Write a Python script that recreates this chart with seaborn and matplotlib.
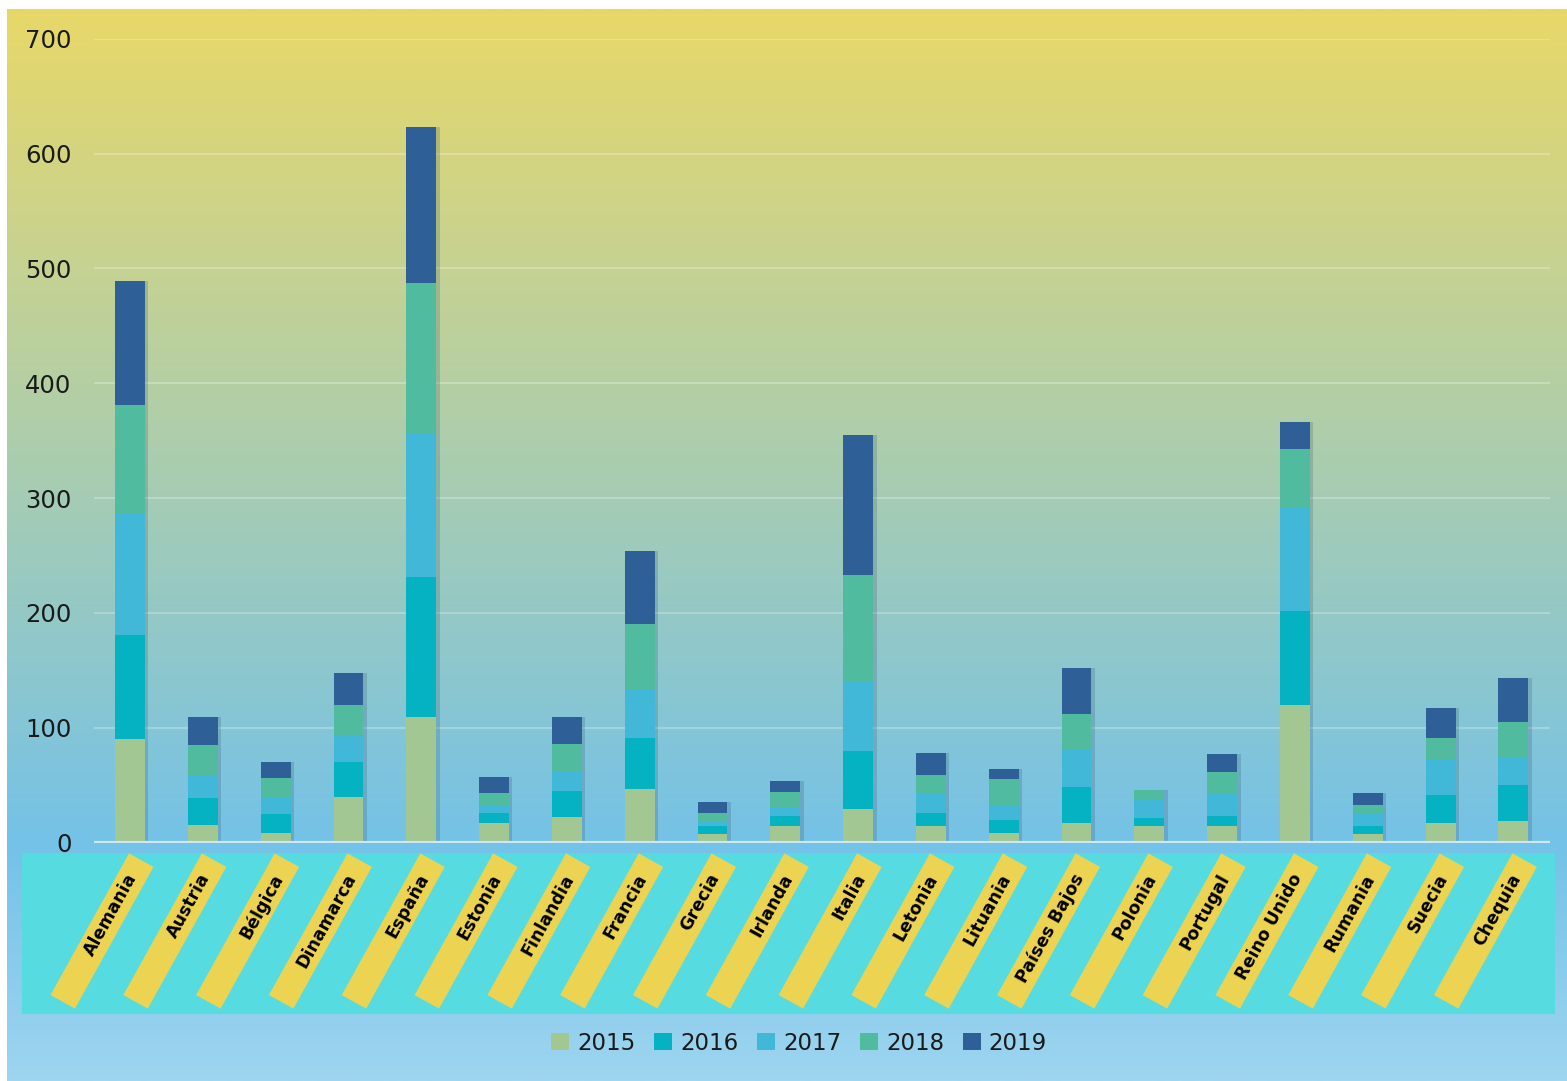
import numpy as np
import matplotlib
matplotlib.use("Agg")
import matplotlib.pyplot as plt
import matplotlib.transforms as mtransforms
import matplotlib.patheffects as pe
from matplotlib.patches import Rectangle, Patch
import seaborn as sns

# =============================
# DATA
# =============================
paises = ["Alemania", "Austria", "Bélgica", "Dinamarca", "España", "Estonia",
          "Finlandia", "Francia", "Grecia", "Irlanda", "Italia", "Letonia",
          "Lituania", "Países Bajos", "Polonia", "Portugal", "Reino Unido",
          "Rumania", "Suecia", "Chequia"]
anios = ["2015", "2016", "2017", "2018", "2019"]

v2015 = [90, 15, 8, 40, 109, 17, 22, 47, 7, 14, 29, 14, 8, 17, 14, 14, 120, 7, 17, 19]
v2016 = [91, 24, 17, 30, 122, 9, 23, 44, 7, 9, 51, 12, 12, 31, 7, 9, 82, 7, 24, 31]
v2017 = [106, 19, 14, 24, 125, 7, 17, 43, 5, 7, 61, 16, 12, 33, 16, 19, 89, 12, 31, 24]
v2018 = [94, 27, 17, 26, 131, 10, 24, 56, 7, 14, 92, 17, 23, 31, 9, 19, 52, 7, 19, 31]
v2019 = [108, 24, 14, 28, 136, 14, 23, 64, 9, 10, 122, 19, 9, 40, 0, 16, 23, 10, 26, 38]

series = [v2015, v2016, v2017, v2018, v2019]
colores = ["#A3C793", "#05B2C1", "#41B8D8", "#50BB9E", "#2F5F97"]

# =============================
# FIGURE + BACKGROUND
# =============================
sns.set_style("white")
plt.rcParams["font.family"] = ["DejaVu Sans"]

W, H = 1567, 1081
fig = plt.figure(figsize=(W / 100, H / 100), dpi=100)
fig.patch.set_facecolor("white")

# vertical gradient yellow -> blue
stops = [0.0, 0.25, 0.78, 1.0]
cols = np.array([[232, 216, 104], [196, 210, 148], [116, 194, 232], [158, 213, 240]]) / 255
t = np.linspace(0, 1, 400)
grad = np.stack([np.interp(t, stops, cols[:, k]) for k in range(3)], axis=1)
bg = fig.add_axes([7 / W, 0, (W - 7) / W, (H - 9) / H])
bg.imshow(grad[:, None, :], aspect="auto", extent=[0, 1, 0, 1])
bg.axis("off")
bg.set_zorder(-3)

# cyan band behind the labels
band = Rectangle((22 / W, (H - 1014) / H), (1555 - 22) / W, (1014 - 853) / H,
                 transform=fig.transFigure, facecolor="#56DCE0", edgecolor="none", zorder=-2)
fig.patches.append(band)

# =============================
# STACKED BARS
# =============================
ax = fig.add_axes([93.6 / W, (H - 842.5) / H, (1549.8 - 93.6) / W, (842.5 - 38.9) / H])
ax.set_zorder(1)
ax.patch.set_alpha(0)

bottom = np.zeros(len(paises))
for anio, vals, col in zip(anios, series, colores):
    sns.barplot(x=paises, y=vals, bottom=bottom, color=col, width=0.41,
                saturation=1, errorbar=None, ax=ax,
                linewidth=0, zorder=3)
    bottom = bottom + np.array(vals)

for bar in ax.patches:
    bar.set_path_effects([pe.SimplePatchShadow(offset=(2.5, 0), shadow_rgbFace="#30506a", alpha=0.22),
                          pe.Normal()])

ax.set_xlim(-0.5, len(paises) - 0.5)
ax.set_ylim(0, 700)
ax.set_yticks(range(0, 701, 100))
ax.yaxis.grid(True, color="white", alpha=0.25, lw=1.5, zorder=0)
ax.set_axisbelow(True)
ax.axhline(0, color="#CDE8F5", lw=3, zorder=4)
for s in ax.spines.values():
    s.set_visible(False)
ax.tick_params(axis="y", length=0, pad=16, labelsize=17.5, labelcolor="#1a1a1a")
ax.tick_params(axis="x", length=0, labelbottom=False)
ax.set_xlabel("")
ax.set_ylabel("")
if ax.get_legend() is not None:
    ax.get_legend().remove()

# =============================
# ROTATED LABEL BOXES
# =============================
ang = 61
L, Wd = 162 / 100, 28 / 100
for i, p in enumerate(paises):
    xb = ax.transData.transform((i, 0))[0] / 100
    cx = xb - 0.28
    cy = (H - 931) / 100
    tr = mtransforms.Affine2D().rotate_deg_around(cx, cy, ang) + fig.dpi_scale_trans
    fig.patches.append(Rectangle((cx - L / 2, cy - Wd / 2), L, Wd, transform=tr,
                                 facecolor="#ECD352", edgecolor="none", zorder=-1))
    d = L / 2 - 0.17
    tx = cx + d * np.cos(np.radians(ang))
    ty = cy + d * np.sin(np.radians(ang))
    fig.text(tx, ty, p, transform=fig.dpi_scale_trans, rotation=ang,
             rotation_mode="anchor", ha="right", va="center",
             fontsize=12.5, fontweight="bold", color="black", zorder=2)

# =============================
# LEGEND
# =============================
handles = [Patch(facecolor=c, edgecolor="none") for c in colores]
fig.legend(handles, anios, loc="center", bbox_to_anchor=(799 / W, (H - 1043) / H),
           ncol=5, frameon=False, fontsize=16.5, handlelength=0.8, handleheight=0.8,
           handletextpad=0.35, columnspacing=0.8, labelcolor="#1a1a1a")

fig.savefig("out.png", dpi=100)
